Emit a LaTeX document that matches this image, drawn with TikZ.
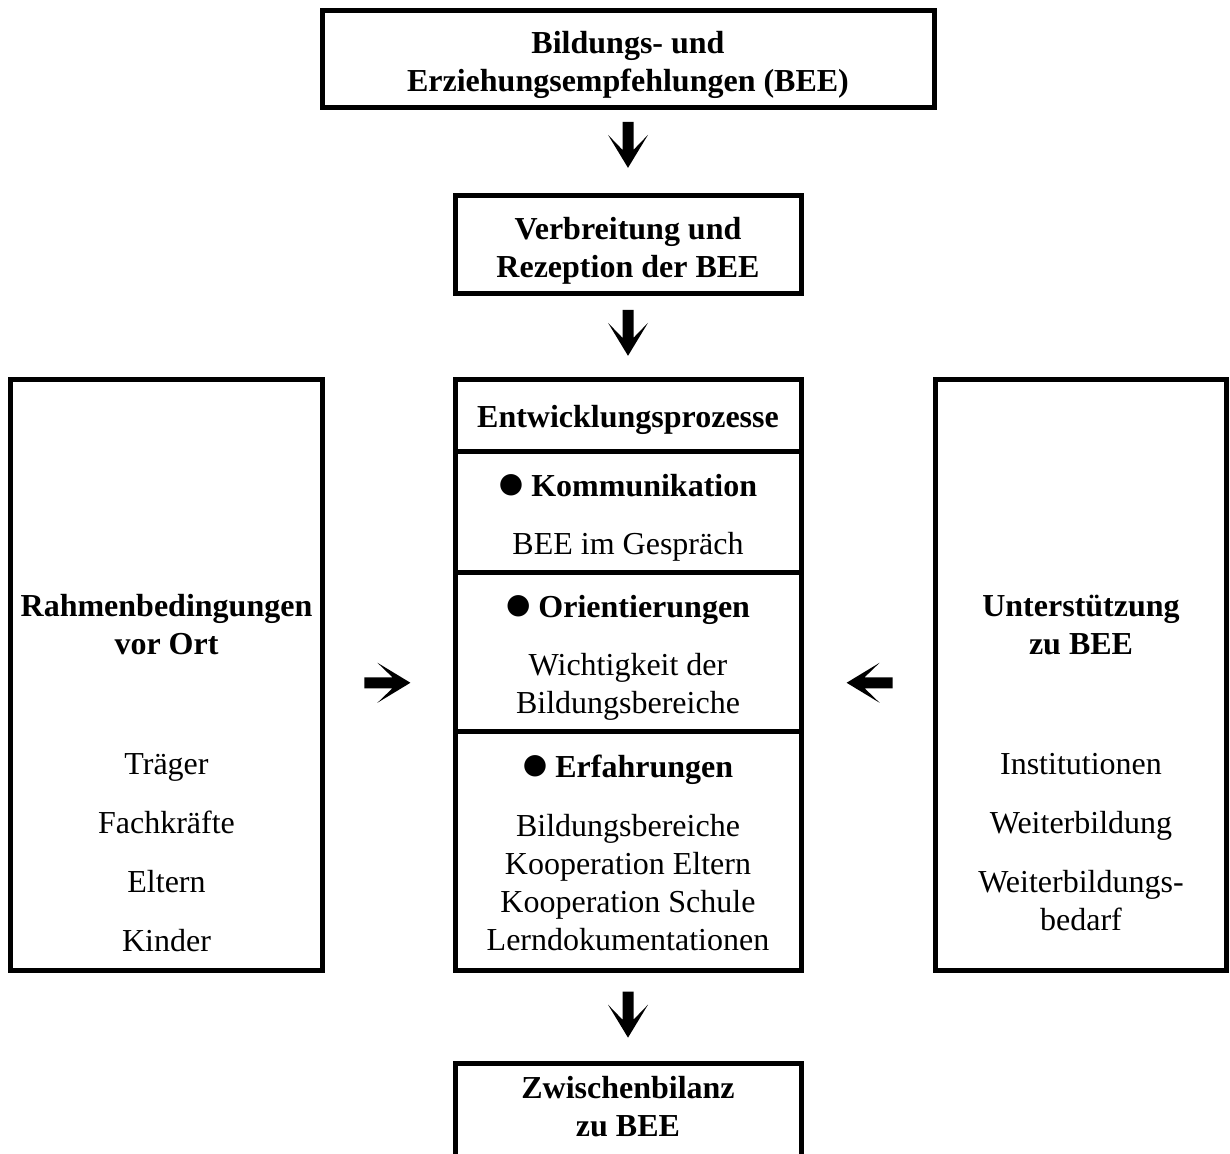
\documentclass[tikz,border=0pt]{standalone}
\usepackage{fontspec}
\setmainfont{Liberation Serif}
\newfontfamily\symfont{DejaVu Sans}
\usetikzlibrary{positioning,calc}

\newcommand{\punkt}{\raisebox{2pt}{\symfont\fontsize{14}{19}\selectfont ●}}

\tikzset{
	box/.style={draw, line width=2.5pt, inner sep=0pt, outer sep=0pt},
	lbl/.style={align=center, inner sep=0pt},
	blockarrow/.pic={\fill (-5.5,-23) -- (5.5,-23) -- (5.5,5) -- (20,-10) -- (0,23) -- (-20,-10) -- (-5.5,5) -- cycle;}
}

\begin{document}
\begin{tikzpicture}[x=0.5pt, y=-0.5pt, font=\fontsize{16}{19}\selectfont]

			\clip (0,0) rectangle (1230,1153);

			\node [box, minimum width=306pt, minimum height=48.5pt] (bee) at (628,58.5) {};
			\node [box, minimum width=173pt, minimum height=49pt] (verb) at (628,244) {};

			\node [box, minimum width=173pt, minimum height=35.75pt] (ent) at (628,415.25) {};
			\node [box, minimum width=173pt, minimum height=60.75pt, below=0pt of ent] (komm) {};
			\node [box, minimum width=173pt, minimum height=79.25pt, below=0pt of komm] (orient) {};
			\node [box, minimum width=173pt, minimum height=119.5pt, below=0pt of orient] (erf) {};

			\node [box, minimum width=156pt, minimum height=295.25pt] (rahmen) at (166.5,674.75) {};
			\node [box, minimum width=145.5pt, minimum height=295.25pt] (unter) at (1081,674.75) {};
			\node [box, minimum width=173pt, minimum height=70pt, below=46.5pt of erf] (zwischen) {};

			\node [lbl] (beetext) at ($(bee)+(0,6)$) {\textbf{Bildungs- und}\\\textbf{Erziehungsempfehlungen (BEE)}};
			\node [lbl] (verbtext) at ($(verb)+(0,7)$) {\textbf{Verbreitung und}\\\textbf{Rezeption der BEE}};
			\node [lbl] (enttext) at ($(ent)+(0,5)$) {\textbf{Entwicklungsprozesse}};
			\node [lbl] (kommtext) at ($(komm)+(0,6)$) {\punkt\ \textbf{Kommunikation}\\[10pt]BEE im Gespräch};
			\node [lbl] (orienttext) at ($(orient)+(0,6.5)$) {\punkt\ \textbf{Orientierungen}\\[10pt]Wichtigkeit der\\Bildungsbereiche};
			\node [lbl] (erftext) at ($(erf)+(0,2)$) {\punkt\ \textbf{Erfahrungen}\\[10.5pt]Bildungsbereiche\\Kooperation Eltern\\Kooperation Schule\\Lerndokumentationen};

			\node [lbl] (rahmentitel) at (166.5,625) {\textbf{Rahmenbedingungen}\\\textbf{vor Ort}};
			\node [lbl] (rahmenliste) at (166.5,853) {Träger\\[10.5pt]Fachkräfte\\[10.5pt]Eltern\\[10.5pt]Kinder};
			\node [lbl] (untertitel) at (1081,625) {\textbf{Unterstützung}\\\textbf{zu BEE}};
			\node [lbl] (unterliste) at (1081,842) {Institutionen\\[10.5pt]Weiterbildung\\[10.5pt]Weiterbildungs-\\bedarf};
			\node [lbl] (zwischentext) at (628,1107) {\textbf{Zwischenbilanz}\\\textbf{zu BEE}};

			\path (bee.south) -- (verb.north) coordinate [pos=0.43] (a1);
			\path (verb.south) -- (ent.north) coordinate [pos=0.46] (a2);
			\path (erf.south) -- (zwischen.north) coordinate [pos=0.48] (a3);
			\coordinate (a4) at ($(rahmen.east)!0.49!(rahmen.east -| orient.west) + (0,8)$);
			\coordinate (a5) at ($(unter.west)!0.49!(unter.west -| orient.east) + (0,8)$);

			\foreach \a in {a1,a2,a3} {\pic at (\a) {blockarrow};}
			\pic [rotate=90] at (a4) {blockarrow};
			\pic [rotate=-90] at (a5) {blockarrow};

		\end{tikzpicture}
\end{document}
